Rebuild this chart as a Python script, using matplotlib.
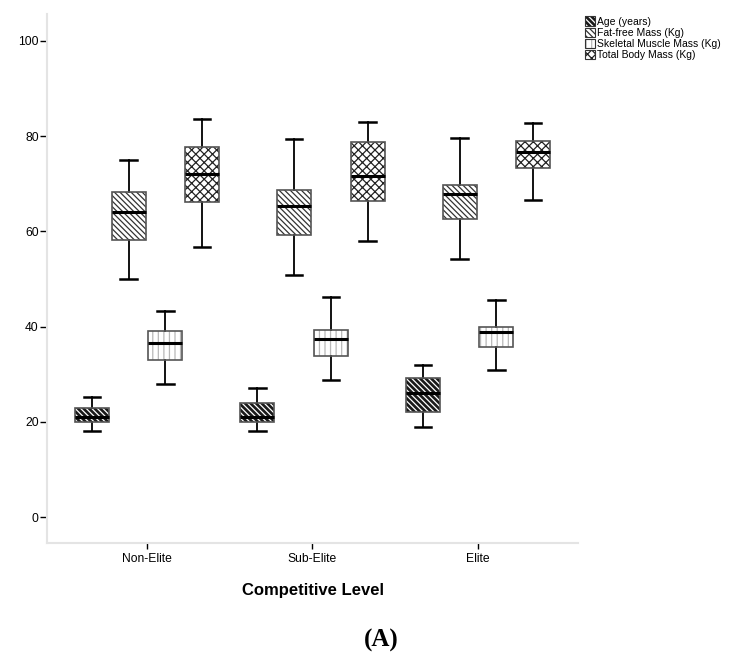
import matplotlib
matplotlib.use("Agg")
import matplotlib.pyplot as plt
from matplotlib.patches import Patch, PathPatch

plt.rcParams["font.family"] = ["Liberation Sans", "DejaVu Sans"]
plt.rcParams["hatch.linewidth"] = 0.9

levels = ["Non-Elite", "Sub-Elite", "Elite"]
measures = ["Age (years)", "Fat-free Mass (Kg)",
            "Skeletal Muscle Mass (Kg)", "Total Body Mass (Kg)"]

# (lower whisker, q1, median, q3, upper whisker) for each level
age = [(18.1, 20.0, 21.0, 22.8, 25.2),
       (18.1, 20.0, 21.0, 24.0, 27.0),
       (19.0, 22.0, 26.0, 29.2, 32.0)]
fat_free = [(50.0, 58.2, 64.0, 68.2, 75.0),
            (50.8, 59.3, 65.3, 68.6, 79.4),
            (54.2, 62.7, 67.8, 69.8, 79.7)]
skeletal = [(28.0, 33.0, 36.6, 39.1, 43.3),
            (28.7, 33.8, 37.4, 39.3, 46.3),
            (30.9, 35.8, 38.9, 39.9, 45.5)]
total = [(56.8, 66.1, 72.0, 77.7, 83.7),
         (58.0, 66.3, 71.7, 78.8, 83.0),
         (66.5, 73.4, 76.6, 78.9, 82.7)]

series = [age, fat_free, skeletal, total]
offsets = [-0.333, -0.111, 0.111, 0.333]
# facecolor, hatch colour, hatch
looks = [("#1a1a1a", "white", "\\" * 6),
         ("white", "#333333", "\\" * 6),
         ("white", "#b8b8b8", "|||"),
         ("white", "#222222", "xxxx")]

fig = plt.figure(figsize=(7.47, 6.53), dpi=100)
ax = fig.add_axes([47 / 747, 110 / 653, 531 / 747, 529 / 653])

for data, off, (fc, hc, hatch) in zip(series, offsets, looks):
    stats = [dict(whislo=d[0], q1=d[1], med=d[2], q3=d[3], whishi=d[4], fliers=[])
             for d in data]
    pos = [i + off for i in range(len(levels))]
    res = ax.bxp(stats, positions=pos, widths=0.205, capwidths=0.1,
                 patch_artist=True, showfliers=False,
                 medianprops=dict(color="black", linewidth=2.2),
                 whiskerprops=dict(color="black", linewidth=1.3),
                 capprops=dict(color="black", linewidth=1.8))
    for box in res["boxes"]:
        box.set_facecolor(fc)
        box.set_edgecolor(hc)
        box.set_hatch(hatch)
        box.set_linewidth(0)
        ax.add_patch(PathPatch(box.get_path(), facecolor="none",
                               edgecolor="#555555", linewidth=1.2, zorder=2.5))
    for m in res["medians"]:
        m.set_zorder(3)

ax.set_xlim(-0.604, 2.604)
ax.set_ylim(-5.46, 105.67)
ax.set_xticks(range(len(levels)))
ax.set_xticklabels(levels)
ax.set_yticks([0, 20, 40, 60, 80, 100])
ax.tick_params(axis="both", labelsize=8.7, color="black", width=1, length=5)
ax.tick_params(axis="x", length=4, pad=3)
ax.tick_params(axis="y", pad=1)
for s in ["top", "right"]:
    ax.spines[s].set_visible(False)
for s in ["left", "bottom"]:
    ax.spines[s].set_color("#e4e4e4")
    ax.spines[s].set_linewidth(1.5)
ax.set_xlabel("Competitive Level", fontsize=12, fontweight="bold", labelpad=13)

handles = [(Patch(facecolor=fc, edgecolor=hc, hatch=h, linewidth=0),
            Patch(facecolor="none", edgecolor="#333333", linewidth=0.8))
           for fc, hc, h in looks]
fig.legend(handles, measures, loc="upper left", bbox_to_anchor=(578 / 747, 1 - 9 / 653),
           frameon=False, fontsize=7.5, handlelength=0.9, handleheight=1.0,
           handletextpad=0.2, labelspacing=0.1, borderpad=0.2)

fig.text(381 / 747, 1 - 640 / 653, "(A)", ha="center", va="center",
         fontsize=18, fontweight="bold", family="Liberation Serif")

fig.savefig("out.png", dpi=100)
